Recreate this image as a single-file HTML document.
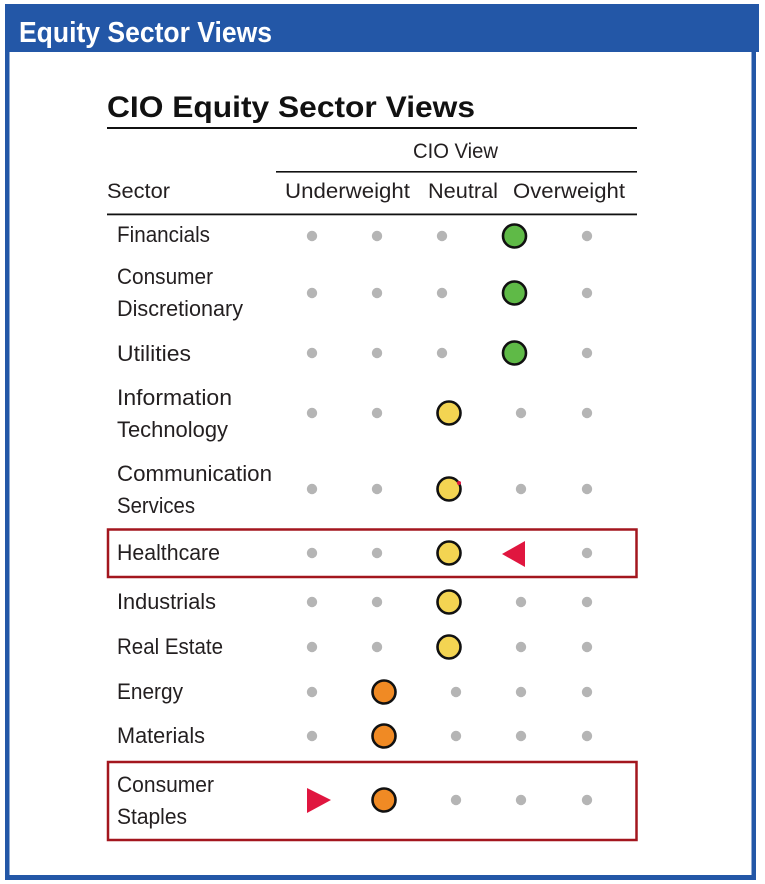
<!DOCTYPE html>
<html>
<head>
<meta charset="utf-8">
<style>
  html,body{margin:0;padding:0;background:#ffffff;}
  svg{display:block;}
  .lbl{font-family:"Liberation Sans",sans-serif;font-size:22px;fill:#231f20;}
  .hd{font-family:"Liberation Sans",sans-serif;font-size:21.5px;fill:#231f20;}
</style>
</head>
<body>
<svg width="765" height="884" viewBox="0 0 765 884" xmlns="http://www.w3.org/2000/svg">
  <rect x="0" y="0" width="765" height="884" fill="#ffffff"/>
  <!-- frame -->
  <rect x="5" y="4" width="754" height="48" fill="#2357a7"/>
  <rect x="5" y="50" width="4.5" height="830" fill="#2357a7"/>
  <rect x="751.5" y="4" width="4.5" height="876" fill="#2357a7"/>
  <rect x="5" y="875" width="751" height="5" fill="#2357a7"/>
  <text x="19" y="42" font-family="Liberation Sans, sans-serif" font-weight="bold" font-size="29" fill="#ffffff" textLength="253" lengthAdjust="spacingAndGlyphs">Equity Sector Views</text>

  <!-- title -->
  <text x="107" y="117" font-family="Liberation Sans, sans-serif" font-weight="bold" font-size="30" fill="#111111" textLength="368" lengthAdjust="spacingAndGlyphs">CIO Equity Sector Views</text>
  <rect x="107" y="127" width="530" height="2" fill="#111"/>

  <text class="hd" x="413" y="158" font-size="20.5" textLength="85" lengthAdjust="spacingAndGlyphs">CIO View</text>
  <rect x="276" y="171" width="361" height="1.6" fill="#111"/>
  <text class="hd" x="107" y="198" textLength="63" lengthAdjust="spacingAndGlyphs">Sector</text>
  <text class="hd" x="285" y="198" textLength="125" lengthAdjust="spacingAndGlyphs">Underweight</text>
  <text class="hd" x="428" y="198" textLength="70" lengthAdjust="spacingAndGlyphs">Neutral</text>
  <text class="hd" x="513" y="198" textLength="112" lengthAdjust="spacingAndGlyphs">Overweight</text>
  <rect x="107" y="213.5" width="530" height="1.8" fill="#111"/>

  <!-- labels -->
  <text class="lbl" x="117" y="242" textLength="93" lengthAdjust="spacingAndGlyphs">Financials</text>
  <text class="lbl" x="117" y="284" textLength="96" lengthAdjust="spacingAndGlyphs">Consumer</text>
  <text class="lbl" x="117" y="316" textLength="126" lengthAdjust="spacingAndGlyphs">Discretionary</text>
  <text class="lbl" x="117" y="361" textLength="74" lengthAdjust="spacingAndGlyphs">Utilities</text>
  <text class="lbl" x="117" y="405" textLength="115" lengthAdjust="spacingAndGlyphs">Information</text>
  <text class="lbl" x="117" y="437" textLength="111" lengthAdjust="spacingAndGlyphs">Technology</text>
  <text class="lbl" x="117" y="481" textLength="155" lengthAdjust="spacingAndGlyphs">Communication</text>
  <text class="lbl" x="117" y="513" textLength="78" lengthAdjust="spacingAndGlyphs">Services</text>
  <text class="lbl" x="117" y="560" textLength="103" lengthAdjust="spacingAndGlyphs">Healthcare</text>
  <text class="lbl" x="117" y="609" textLength="99" lengthAdjust="spacingAndGlyphs">Industrials</text>
  <text class="lbl" x="117" y="654" textLength="106" lengthAdjust="spacingAndGlyphs">Real Estate</text>
  <text class="lbl" x="117" y="699" textLength="66" lengthAdjust="spacingAndGlyphs">Energy</text>
  <text class="lbl" x="117" y="743" textLength="88" lengthAdjust="spacingAndGlyphs">Materials</text>
  <text class="lbl" x="117" y="792" textLength="97" lengthAdjust="spacingAndGlyphs">Consumer</text>
  <text class="lbl" x="117" y="824" textLength="70" lengthAdjust="spacingAndGlyphs">Staples</text>

  <!-- boxes -->
  <rect x="108" y="529.5" width="528.5" height="47.5" fill="none" stroke="#a3161e" stroke-width="2.5"/>
  <rect x="108" y="762" width="528.5" height="78" fill="none" stroke="#a3161e" stroke-width="2.5"/>

  <!-- gray dots -->
  <g fill="#b5b5b5">
    <circle cx="312" cy="236" r="5.2"/><circle cx="377" cy="236" r="5.2"/><circle cx="442" cy="236" r="5.2"/><circle cx="587" cy="236" r="5.2"/>
    <circle cx="312" cy="293" r="5.2"/><circle cx="377" cy="293" r="5.2"/><circle cx="442" cy="293" r="5.2"/><circle cx="587" cy="293" r="5.2"/>
    <circle cx="312" cy="353" r="5.2"/><circle cx="377" cy="353" r="5.2"/><circle cx="442" cy="353" r="5.2"/><circle cx="587" cy="353" r="5.2"/>
    <circle cx="312" cy="413" r="5.2"/><circle cx="377" cy="413" r="5.2"/><circle cx="521" cy="413" r="5.2"/><circle cx="587" cy="413" r="5.2"/>
    <circle cx="312" cy="489" r="5.2"/><circle cx="377" cy="489" r="5.2"/><circle cx="521" cy="489" r="5.2"/><circle cx="587" cy="489" r="5.2"/>
    <circle cx="312" cy="553" r="5.2"/><circle cx="377" cy="553" r="5.2"/><circle cx="587" cy="553" r="5.2"/>
    <circle cx="312" cy="602" r="5.2"/><circle cx="377" cy="602" r="5.2"/><circle cx="521" cy="602" r="5.2"/><circle cx="587" cy="602" r="5.2"/>
    <circle cx="312" cy="647" r="5.2"/><circle cx="377" cy="647" r="5.2"/><circle cx="521" cy="647" r="5.2"/><circle cx="587" cy="647" r="5.2"/>
    <circle cx="312" cy="692" r="5.2"/><circle cx="456" cy="692" r="5.2"/><circle cx="521" cy="692" r="5.2"/><circle cx="587" cy="692" r="5.2"/>
    <circle cx="312" cy="736" r="5.2"/><circle cx="456" cy="736" r="5.2"/><circle cx="521" cy="736" r="5.2"/><circle cx="587" cy="736" r="5.2"/>
    <circle cx="456" cy="800" r="5.2"/><circle cx="521" cy="800" r="5.2"/><circle cx="587" cy="800" r="5.2"/>
  </g>

  <!-- big circles -->
  <g stroke="#111111" stroke-width="2.6">
    <circle cx="514.5" cy="236" r="11.5" fill="#5fba47"/>
    <circle cx="514.5" cy="293" r="11.5" fill="#5fba47"/>
    <circle cx="514.5" cy="353" r="11.5" fill="#5fba47"/>
    <circle cx="449" cy="413" r="11.5" fill="#f3d452"/>
    <circle cx="449" cy="489" r="11.5" fill="#f3d452"/>
    <circle cx="449" cy="553" r="11.5" fill="#f3d452"/>
    <circle cx="449" cy="602" r="11.5" fill="#f3d452"/>
    <circle cx="449" cy="647" r="11.5" fill="#f3d452"/>
    <circle cx="384" cy="692" r="11.5" fill="#f08a24"/>
    <circle cx="384" cy="736" r="11.5" fill="#f08a24"/>
    <circle cx="384" cy="800" r="11.5" fill="#f08a24"/>
  </g>
  <circle cx="459" cy="483" r="2" fill="#e0123c"/>

  <!-- triangles -->
  <polygon points="502,554 525,541 525,567" fill="#e0163f"/>
  <polygon points="307,788 307,813 331,800" fill="#e0163f"/>
</svg>
</body>
</html>
